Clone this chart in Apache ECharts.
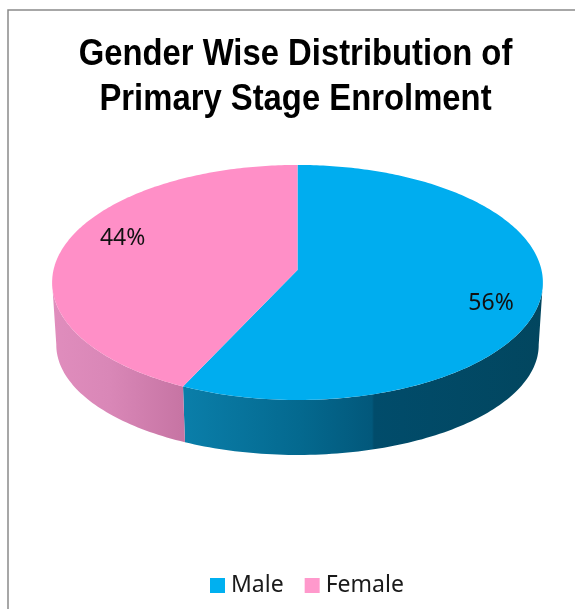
<!DOCTYPE html>
<html>
<head>
<meta charset="utf-8">
<style>html,body{margin:0;padding:0;background:#fff;overflow:hidden}#c{width:575px;height:609px}</style>
<script src="https://cdn.jsdelivr.net/npm/echarts@6/dist/echarts.min.js"></script>
</head>
<body>
<div id="c"></div>
<script>
const categories = ['Male', 'Female'];
const shares = [56, 44];
const titleLines = ['Gender Wise Distribution of', 'Primary Stage Enrolment'];

const topColors = ['#00ADEF', '#FF8FC7'];
const legendColors = ['#00B0F0', '#FF99CC'];
const sideStops = [
  [[185, '#0A7EA9'], [300, '#04698F'], [372, '#02587B'], [374, '#014C6B'], [543, '#02465F']],
  [[52, '#E08DBD'], [110, '#D987B7'], [185, '#C674A3']]
];
const labelShift = [[-2, 31], [-12, -3]];

// view of the tilted disc
const view = {cx: 297.5, cy: 270, A: 244, B: 116.2, k: 0.106, warp: -9.5, depth: 63.3, baseX: 0.983, baseY: 0.936, sideFrom: 105, sideTo: 255};
const total = shares.reduce((a, b) => a + b, 0);

function project(deg, r, base) {
  const t0 = deg * Math.PI / 180;
  const t = t0 + (view.warp * Math.PI / 180) * Math.sin(t0);
  const u = r * Math.sin(t), v = -r * Math.cos(t);
  const w = 1 - view.k * v;
  const sx = base ? view.baseX : 1, sy = base ? view.baseY : 1;
  return [view.cx + view.A * sx * u / w, view.cy + view.B * sy * v / w + (base ? view.depth : 0)];
}
function arc(from, to, r, base) {
  const pts = [], n = Math.max(2, Math.ceil(Math.abs(to - from)));
  for (let i = 0; i <= n; i++) pts.push(project(from + (to - from) * i / n, r, base));
  return pts;
}
function gradient(stops) {
  const x0 = stops[0][0], x1 = stops[stops.length - 1][0];
  return new echarts.graphic.LinearGradient(x0, 0, x1, 0,
    stops.map(s => ({offset: (s[0] - x0) / (x1 - x0), color: s[1]})), true);
}

function renderSlice(index) {
  return function () {
    const before = shares.slice(0, index).reduce((a, b) => a + b, 0);
    const from = before / total * 360, to = (before + shares[index]) / total * 360;
    const children = [];
    const sFrom = Math.max(from, view.sideFrom), sTo = Math.min(to, view.sideTo);
    if (sTo > sFrom) {
      children.push({
        type: 'polygon', z2: 1,
        shape: {points: arc(sFrom, sTo, 1, false).concat(arc(sTo, sFrom, 1, true))},
        style: {fill: gradient(sideStops[index])}
      });
    }
    children.push({
      type: 'polygon', z2: 2,
      shape: {points: [project(0, 0, false)].concat(arc(from, to, 1, false))},
      style: {fill: topColors[index]}
    });
    const p = project((from + to) / 2, index === 0 ? 0.8 : 0.73, false);
    children.push({
      type: 'text', z2: 3,
      style: {
        x: p[0] + labelShift[index][0], y: p[1] + labelShift[index][1],
        text: shares[index] + '%', fill: '#111',
        font: '23px "Noto Sans"', align: 'center', verticalAlign: 'middle'
      }
    });
    return {type: 'group', children};
  };
}

const chart = echarts.init(document.getElementById('c'), null, {renderer: 'canvas'});
chart.setOption({
  animation: false,
  backgroundColor: '#fff',
  legend: {
    data: categories, left: 205, top: 569,
    icon: 'rect', itemWidth: 15, itemHeight: 15, itemGap: 21,
    textStyle: {fontFamily: '"Noto Sans"', fontSize: 23, color: '#1a1a1a', padding: [0, 0, 0, 1]},
    selectedMode: false
  },
  graphic: [{
    type: 'rect', silent: true, z: -1,
    shape: {x: 8, y: 10, width: 700, height: 700},
    style: {fill: 'none', stroke: '#8A8A8A', lineWidth: 1.5}
  }, {
    type: 'text', silent: true, z: 5,
    x: 295.5, y: 33, scaleX: 0.887,
    style: {
      x: 0, y: 0, text: titleLines.join('\n'), fill: '#000',
      font: 'bold 37px "Liberation Sans"', lineHeight: 44.5, align: 'center', verticalAlign: 'top'
    }
  }],
  series: categories.map((name, i) => ({
    type: 'custom', name, coordinateSystem: 'none',
    data: [[shares[i]]],
    itemStyle: {color: legendColors[i]},
    renderItem: renderSlice(i)
  }))
});
</script>
</body>
</html>
